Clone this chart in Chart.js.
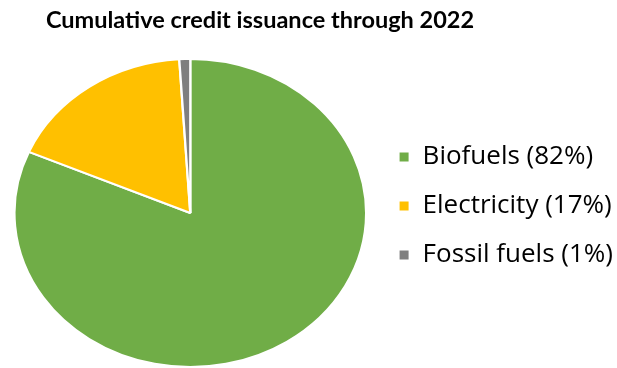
<!DOCTYPE html>
<html>
<head>
<meta charset="utf-8">
<script src="https://cdn.jsdelivr.net/npm/chart.js@4.4.0/dist/chart.umd.min.js"></script>
<style>
  html, body { margin: 0; padding: 0; background: #fff; }
  #wrap { position: relative; width: 617px; height: 368px; overflow: hidden; }
  #myChart { position: absolute; left: -9px; top: 0; }
  #title {
    position: absolute; top: 5px; left: 0; width: 520px; text-align: center;
    font: bold 23.5px Lato, "Open Sans", sans-serif; color: #000; z-index: 1;
  }
</style>
</head>
<body>
<div id="wrap">
  <canvas id="myChart" width="626" height="368"></canvas>
  <div id="title">Cumulative credit issuance through 2022</div>
</div>
<script>
// values
const labels = ['Biofuels (82%)', 'Electricity (17%)', 'Fossil fuels (1%)'];
const shares = [81.5, 17.5, 1.0];
const colors = ['#70AD47', '#FFC000', '#7F7F7F'];

// the pie in the picture is an ellipse, wider than tall
const stretchPie = {
  id: 'stretchPie',
  beforeDatasetsDraw(chart, args, opts) {
    const ctx = chart.ctx;
    const a = chart.chartArea;
    const cx = (a.left + a.right) / 2;
    const cy = (a.top + a.bottom) / 2;
    ctx.save();
    ctx.translate(cx, cy);
    ctx.scale(opts.sx, 1);
    ctx.translate(-cx, -cy);
  },
  afterDatasetsDraw(chart) {
    chart.ctx.restore();
  }
};

const ctx = document.getElementById('myChart').getContext('2d');
const myChart = new Chart(ctx, {
  type: 'pie',
  data: {
    labels: labels,
    datasets: [{
      data: shares,
      backgroundColor: colors,
      borderColor: '#fff',
      borderWidth: 2
    }]
  },
  options: {
    responsive: false,
    animation: false,
    layout: { padding: { top: 58, left: 0, right: -6, bottom: 0 } },
    plugins: {
      stretchPie: { sx: 177 / 155 },
      title: { display: false },
      tooltip: { enabled: false },
      legend: {
        display: true,
        position: 'right',
        labels: {
          boxWidth: 11,
          boxHeight: 11,
          padding: 9,
          color: '#000',
          font: { family: 'Open Sans', size: 26, lineHeight: '40px' },
          // one-line arrays so the row height follows the font lineHeight
          generateLabels(chart) {
            const items = Chart.overrides.pie.plugins.legend.labels.generateLabels(chart);
            items.forEach(it => { it.text = [it.text]; });
            return items;
          }
        }
      }
    }
  },
  plugins: [stretchPie]
});
</script>
</body>
</html>
